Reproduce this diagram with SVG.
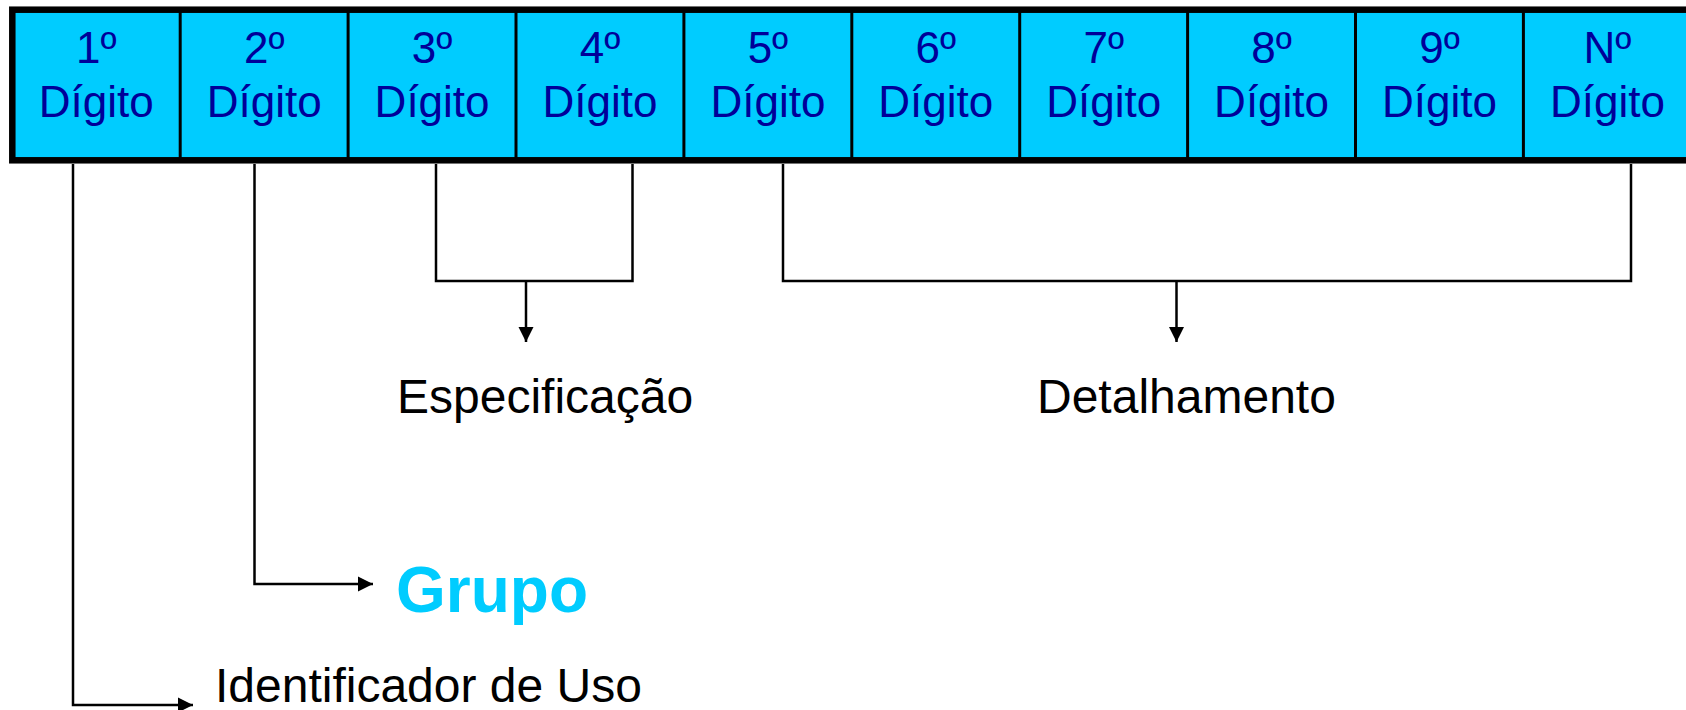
<svg xmlns="http://www.w3.org/2000/svg" width="1686" height="710" viewBox="0 0 1686 710">
<style>
.bar{fill:#00CCFF;stroke:#000;stroke-width:6.5}
.div{stroke:#000;stroke-width:3}
.dig{font-family:"Liberation Sans",Arial,sans-serif;font-size:44px;fill:#000099;text-anchor:middle}
.conn{fill:none;stroke:#000;stroke-width:2.5}
.lbl{font-family:"Liberation Sans",Arial,sans-serif;font-size:48px;fill:#000}
.grp{font-family:"Liberation Sans",Arial,sans-serif;font-size:64px;font-weight:bold;fill:#00CCFF}
</style>
<defs>
<marker id="ah" viewBox="0 0 10 10" refX="10" refY="5" markerWidth="6" markerHeight="6.4" markerUnits="strokeWidth" orient="auto">
<path d="M0,0 L10,5 L0,10 Z" fill="#000"/>
</marker>
</defs>
<g id="bar">
<rect class="bar" x="12.3" y="9.7" width="1679" height="150.6"/>
<line class="div" x1="180.2" y1="10" x2="180.2" y2="160"/>
<line class="div" x1="348.1" y1="10" x2="348.1" y2="160"/>
<line class="div" x1="516" y1="10" x2="516" y2="160"/>
<line class="div" x1="683.9" y1="10" x2="683.9" y2="160"/>
<line class="div" x1="851.8" y1="10" x2="851.8" y2="160"/>
<line class="div" x1="1019.7" y1="10" x2="1019.7" y2="160"/>
<line class="div" x1="1187.6" y1="10" x2="1187.6" y2="160"/>
<line class="div" x1="1355.5" y1="10" x2="1355.5" y2="160"/>
<line class="div" x1="1523.4" y1="10" x2="1523.4" y2="160"/>
</g>
<g id="d1"><text class="dig" x="96.2" y="63">1º</text><text class="dig" x="96.2" y="117">Dígito</text></g>
<g id="d2"><text class="dig" x="264.2" y="63">2º</text><text class="dig" x="264.2" y="117">Dígito</text></g>
<g id="d3"><text class="dig" x="432.1" y="63">3º</text><text class="dig" x="432.1" y="117">Dígito</text></g>
<g id="d4"><text class="dig" x="600" y="63">4º</text><text class="dig" x="600" y="117">Dígito</text></g>
<g id="d5"><text class="dig" x="767.9" y="63">5º</text><text class="dig" x="767.9" y="117">Dígito</text></g>
<g id="d6"><text class="dig" x="935.8" y="63">6º</text><text class="dig" x="935.8" y="117">Dígito</text></g>
<g id="d7"><text class="dig" x="1103.7" y="63">7º</text><text class="dig" x="1103.7" y="117">Dígito</text></g>
<g id="d8"><text class="dig" x="1271.6" y="63">8º</text><text class="dig" x="1271.6" y="117">Dígito</text></g>
<g id="d9"><text class="dig" x="1439.5" y="63">9º</text><text class="dig" x="1439.5" y="117">Dígito</text></g>
<g id="dN"><text class="dig" x="1607.4" y="63">Nº</text><text class="dig" x="1607.4" y="117">Dígito</text></g>
<g id="connectors">
<polyline class="conn" points="73,164 73,705 193,705" marker-end="url(#ah)"/>
<polyline class="conn" points="254.5,164 254.5,584 373,584" marker-end="url(#ah)"/>
<polyline class="conn" points="436,164 436,281 632.5,281 632.5,164"/>
<line class="conn" x1="526" y1="281" x2="526" y2="342" marker-end="url(#ah)"/>
<polyline class="conn" points="783,164 783,281 1631,281 1631,164"/>
<line class="conn" x1="1176.5" y1="281" x2="1176.5" y2="342" marker-end="url(#ah)"/>
</g>
<g id="especificacao"><text class="lbl" x="397" y="413">Especificação</text></g>
<g id="detalhamento"><text class="lbl" x="1037" y="413">Detalhamento</text></g>
<g id="grupo"><text class="grp" x="396" y="612">Grupo</text></g>
<g id="identificador"><text class="lbl" x="215" y="702">Identificador de Uso</text></g>
</svg>
